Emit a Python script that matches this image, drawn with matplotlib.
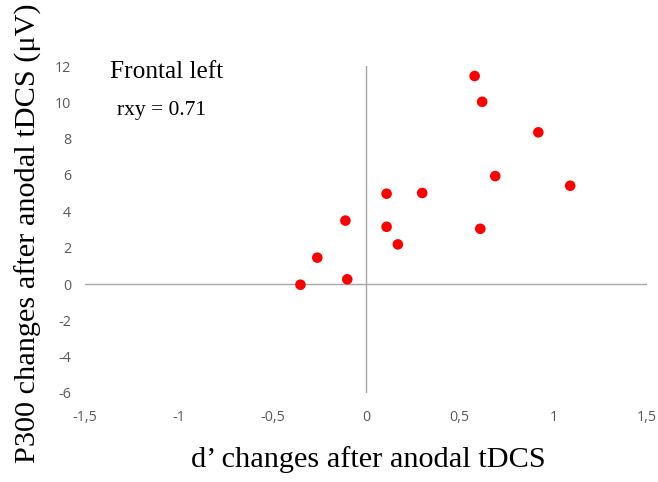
import matplotlib
matplotlib.use("Agg")
import matplotlib.pyplot as plt
from matplotlib.ticker import FuncFormatter


# d' change vs P300 change, frontal left
d_prime = [0.58, 0.62, 0.92, 0.69, 1.09, 0.11, 0.30, -0.11, 0.11, 0.61, 0.17, -0.26, -0.10, -0.35]
p300 = [11.45, 10.03, 8.35, 5.94, 5.41, 4.97, 5.01, 3.49, 3.15, 3.04, 2.18, 1.45, 0.26, -0.04]

x_ticks = [-1.5, -1, -0.5, 0, 0.5, 1, 1.5]
y_ticks = [-6, -4, -2, 0, 2, 4, 6, 8, 10, 12]

SERIF = "Liberation Serif"
TICK_FONT = "Open Sans"


def comma_fmt(v, pos):
    s = f"{v:g}"
    return s.replace(".", ",")


def main():
    fig = plt.figure(figsize=(6.58, 4.82), dpi=100)
    ax = fig.add_axes([85 / 658, 89 / 482, 562 / 658, 327 / 482])

    ax.set_xlim(-1.5, 1.5)
    ax.set_ylim(-6, 12)

    ax.axhline(0, color="#a6a6a6", lw=1.0, zorder=1)
    ax.axvline(0, color="#a6a6a6", lw=1.0, zorder=1)

    ax.scatter(d_prime, p300, s=58, color="#ff0000", edgecolors="none", zorder=3)

    for side in ["top", "right", "left", "bottom"]:
        ax.spines[side].set_visible(False)

    ax.set_xticks(x_ticks)
    ax.set_yticks(y_ticks)
    ax.xaxis.set_major_formatter(FuncFormatter(comma_fmt))
    ax.yaxis.set_major_formatter(FuncFormatter(comma_fmt))
    ax.tick_params(length=0, colors="#595959", labelsize=10.3)
    ax.tick_params(axis="x", pad=12)
    ax.tick_params(axis="y", pad=10)
    for lbl in ax.get_xticklabels() + ax.get_yticklabels():
        lbl.set_fontfamily(TICK_FONT)

    fig.text(368 / 658, 1 - 460 / 482, "d\u2019 changes after anodal tDCS",
             fontfamily=SERIF, fontsize=21.8, ha="center", va="center")
    fig.text(28 / 658, 1 - 233 / 482, "P300 changes after anodal tDCS (\u03bcV)",
             fontfamily=SERIF, fontsize=21.8, rotation=90, ha="center", va="center")

    fig.text(110 / 658, 1 - 72 / 482, "Frontal left",
             fontfamily=SERIF, fontsize=18.3, va="center")
    fig.text(117 / 658, 1 - 110 / 482, "rxy = 0.71",
             fontfamily=SERIF, fontsize=15.5, va="center")

    fig.savefig("out.png", dpi=100, facecolor="white")
    plt.close(fig)


if __name__ == "__main__":
    main()
